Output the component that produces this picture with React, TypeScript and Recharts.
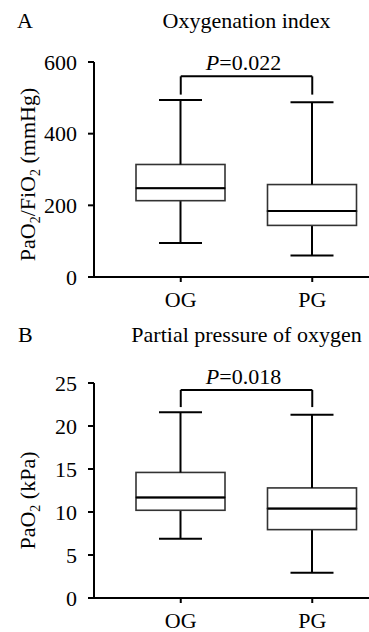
import React from "react";
import { ComposedChart, Bar, XAxis, YAxis, ReferenceLine } from "recharts";

const groups = ["OG", "PG"];

// A: oxygenation index, PaO2/FiO2 (mmHg)
const oiMin = [95, 60];
const oiQ1 = [213, 144];
const oiMedian = [248, 184];
const oiQ3 = [314, 258];
const oiMax = [494, 488];
const oiTicks = [0, 200, 400, 600];

// B: partial pressure of oxygen (kPa)
const poMin = [6.9, 2.95];
const poQ1 = [10.2, 7.95];
const poMedian = [11.7, 10.4];
const poQ3 = [14.6, 12.8];
const poMax = [21.6, 21.3];
const poTicks = [0, 5, 10, 15, 20, 25];

// significance brackets
const pValues = ["0.022", "0.018"];
const bracketTop = [560, 24.2];
const bracketLeg = [509, 22.2];

const FONT = "'Liberation Serif', 'Times New Roman', serif";
const CAP = 21.5;

function buildRows(mn: number[], q1: number[], med: number[], q3: number[], mx: number[]) {
  return groups.map((g, i) => ({
    group: g,
    base: mn[i],
    lowWhisker: q1[i] - mn[i],
    lowBox: med[i] - q1[i],
    highBox: q3[i] - med[i],
    highWhisker: mx[i] - q3[i],
  }));
}

const Empty = () => <g />;

const LowWhisker = (p: any) => {
  const { x, y, width, height } = p;
  const cx = x + width / 2;
  return (
    <g>
      <line x1={cx} x2={cx} y1={y} y2={y + height} stroke="#000" strokeWidth={2} />
      <line x1={cx - CAP} x2={cx + CAP} y1={y + height} y2={y + height} stroke="#000" strokeWidth={2} />
    </g>
  );
};

const HighWhisker = (p: any) => {
  const { x, y, width, height } = p;
  const cx = x + width / 2;
  return (
    <g>
      <line x1={cx} x2={cx} y1={y} y2={y + height} stroke="#000" strokeWidth={2} />
      <line x1={cx - CAP} x2={cx + CAP} y1={y} y2={y} stroke="#000" strokeWidth={2} />
    </g>
  );
};

const LowBox = (p: any) => {
  const { x, y, width, height } = p;
  return <rect x={x} y={y} width={width} height={height} fill="#fff" stroke="#333" strokeWidth={1.6} />;
};

const HighBox = (p: any) => {
  const { x, y, width, height } = p;
  return (
    <g>
      <rect x={x} y={y} width={width} height={height} fill="#fff" stroke="#333" strokeWidth={1.6} />
      <line x1={x} x2={x + width} y1={y + height} y2={y + height} stroke="#000" strokeWidth={2} />
    </g>
  );
};

const YTick = ({ x, y, payload }: any) => (
  <text x={x} y={y} dy="0.355em" textAnchor="end" fontFamily={FONT} fontSize={22} fill="#000">
    {payload.value}
  </text>
);

const XTick = ({ x, y, payload }: any) => (
  <text x={x} y={y} dy="0.71em" textAnchor="middle" fontFamily={FONT} fontSize={22} fill="#000">
    {payload.value}
  </text>
);

function PLabel({ viewBox, p }: any) {
  if (!viewBox) return null;
  const cx = viewBox.x + (viewBox.width || 0) / 2 - 3;
  return (
    <text x={cx} y={viewBox.y - 6} textAnchor="middle" fontFamily={FONT} fontSize={22} fill="#000">
      <tspan fontStyle="italic">P</tspan>={p}
    </text>
  );
}

function YTitle({ viewBox, shift, parts }: any) {
  if (!viewBox) return null;
  const cx = 35;
  const cy = viewBox.y + viewBox.height / 2 + shift;
  return (
    <text
      x={cx}
      y={cy}
      transform={`rotate(-90, ${cx}, ${cy})`}
      textAnchor="middle"
      fontFamily={FONT}
      fontSize={22}
      fill="#000"
    >
      {parts.map((s: string, i: number) =>
        i % 2 === 1 ? (
          <tspan key={i} dy={5} fontSize={14}>{s}</tspan>
        ) : (
          <tspan key={i} dy={i === 0 ? 0 : -5}>{s}</tspan>
        )
      )}
    </text>
  );
}

interface PanelProps {
  rows: any[];
  ticks: number[];
  top: number;
  height: number;
  marginTop: number;
  idx: number;
  titleParts: string[];
  titleShift: number;
}

function BoxPanel({ rows, ticks, top, height, marginTop, idx, titleParts, titleShift }: PanelProps) {
  const axisStyle = { stroke: "#000", strokeWidth: 2 };
  return (
    <div style={{ position: "absolute", left: 0, top }}>
      <ComposedChart
        width={380}
        height={height}
        data={rows}
        margin={{ top: marginTop, right: 0, bottom: 0, left: 0 }}
      >
        <XAxis
          dataKey="group"
          interval={0}
          height={height - marginTop - 215}
          padding={{ left: 21, right: 2 }}
          tick={<XTick />}
          tickSize={5}
          tickMargin={9}
          tickLine={axisStyle}
          axisLine={axisStyle}
        />
        <YAxis
          width={94}
          domain={[ticks[0], ticks[ticks.length - 1]]}
          ticks={ticks}
          interval={0}
          tick={<YTick />}
          tickSize={6}
          tickMargin={11}
          tickLine={axisStyle}
          axisLine={axisStyle}
          label={{ content: (lp: any) => <YTitle {...lp} shift={titleShift} parts={titleParts} /> }}
        />
        <Bar dataKey="base" stackId="s" barSize={89} shape={Empty} isAnimationActive={false} />
        <Bar dataKey="lowWhisker" stackId="s" barSize={89} shape={LowWhisker} isAnimationActive={false} />
        <Bar dataKey="lowBox" stackId="s" barSize={89} shape={LowBox} isAnimationActive={false} />
        <Bar dataKey="highBox" stackId="s" barSize={89} shape={HighBox} isAnimationActive={false} />
        <Bar dataKey="highWhisker" stackId="s" barSize={89} shape={HighWhisker} isAnimationActive={false} />
        <ReferenceLine
          segment={[{ x: groups[0], y: bracketTop[idx] }, { x: groups[1], y: bracketTop[idx] }]}
          stroke="#000"
          strokeWidth={2}
          label={{ content: (lp: any) => <PLabel {...lp} p={pValues[idx]} /> }}
        />
        <ReferenceLine
          segment={[{ x: groups[0], y: bracketTop[idx] }, { x: groups[0], y: bracketLeg[idx] }]}
          stroke="#000"
          strokeWidth={2}
        />
        <ReferenceLine
          segment={[{ x: groups[1], y: bracketTop[idx] }, { x: groups[1], y: bracketLeg[idx] }]}
          stroke="#000"
          strokeWidth={2}
        />
      </ComposedChart>
    </div>
  );
}

export default function App() {
  const rowsA = buildRows(oiMin, oiQ1, oiMedian, oiQ3, oiMax);
  const rowsB = buildRows(poMin, poQ1, poMedian, poQ3, poMax);
  return (
    <div
      style={{
        position: "fixed",
        left: 0,
        top: 0,
        width: 369,
        height: 632,
        overflow: "hidden",
        background: "#fff",
        fontFamily: FONT,
      }}
    >
      <BoxPanel
        rows={rowsA}
        ticks={oiTicks}
        top={0}
        height={311}
        marginTop={62}
        idx={0}
        titleParts={["PaO", "2", "/FiO", "2", " (mmHg)"]}
        titleShift={5}
      />
      <BoxPanel
        rows={rowsB}
        ticks={poTicks}
        top={311}
        height={321}
        marginTop={72}
        idx={1}
        titleParts={["PaO", "2", " (kPa)"]}
        titleShift={10}
      />
      <svg width={369} height={632} style={{ position: "absolute", left: 0, top: 0, pointerEvents: "none" }}>
        <g fontFamily={FONT} fontSize={22} fill="#000">
          <text x={17} y={28}>A</text>
          <text x={246.6} y={28} textAnchor="middle">Oxygenation index</text>
          <text x={18} y={342}>B</text>
          <text x={246.5} y={342} textAnchor="middle">Partial pressure of oxygen</text>
        </g>
      </svg>
    </div>
  );
}
